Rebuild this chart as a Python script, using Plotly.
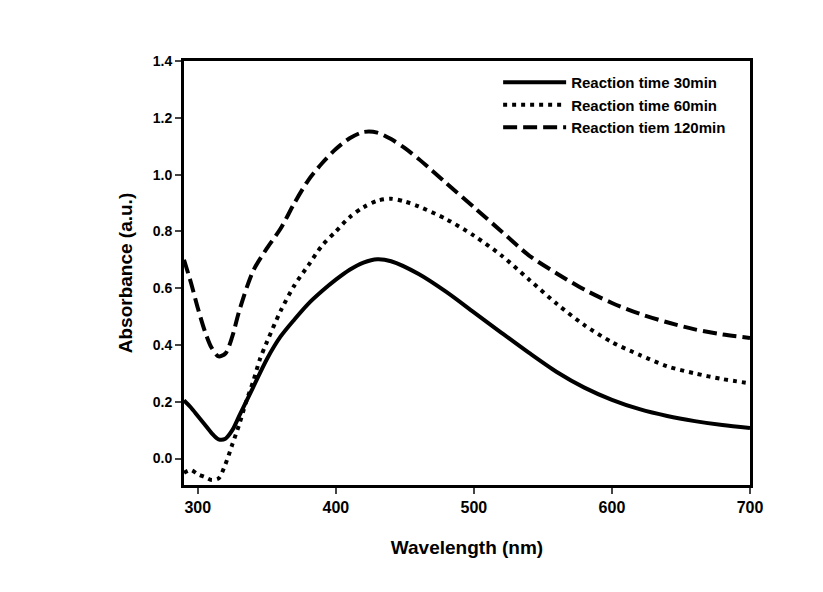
import plotly.graph_objects as go

wl_30 = [290, 295, 300, 305, 310, 315, 320, 325, 330, 340, 350, 360, 370, 380, 390, 400, 410, 420, 430, 440, 460, 480, 500, 520, 540, 560, 580, 600, 620, 640, 660, 680, 700]
abs_30 = [0.205, 0.18, 0.15, 0.12, 0.09, 0.068, 0.07, 0.1, 0.15, 0.25, 0.35, 0.43, 0.49, 0.545, 0.59, 0.63, 0.665, 0.69, 0.702, 0.695, 0.65, 0.587, 0.515, 0.443, 0.372, 0.305, 0.25, 0.207, 0.174, 0.15, 0.132, 0.118, 0.108]

wl_60 = [290, 295, 300, 305, 310, 315, 320, 325, 330, 335, 340, 345, 350, 360, 370, 380, 390, 400, 410, 420, 430, 440, 450, 460, 480, 500, 520, 540, 560, 580, 600, 620, 640, 660, 680, 700]
abs_60 = [-0.05, -0.04, -0.055, -0.065, -0.075, -0.07, -0.02, 0.05, 0.12, 0.2, 0.27, 0.35, 0.41, 0.52, 0.61, 0.68, 0.75, 0.80, 0.85, 0.885, 0.908, 0.915, 0.905, 0.888, 0.843, 0.785, 0.715, 0.63, 0.545, 0.47, 0.41, 0.365, 0.325, 0.30, 0.28, 0.265]

wl_120 = [290, 295, 300, 305, 310, 315, 320, 325, 330, 340, 350, 360, 370, 380, 390, 400, 410, 420, 430, 440, 450, 460, 470, 480, 500, 520, 540, 560, 580, 600, 620, 640, 660, 680, 700]
abs_120 = [0.70, 0.62, 0.53, 0.45, 0.39, 0.36, 0.37, 0.43, 0.52, 0.66, 0.74, 0.81, 0.90, 0.98, 1.04, 1.09, 1.128, 1.15, 1.148, 1.125, 1.093, 1.055, 1.013, 0.97, 0.885, 0.80, 0.715, 0.652, 0.595, 0.548, 0.51, 0.48, 0.455, 0.437, 0.425]

names = ["Reaction time 30min", "Reaction time 60min", "Reaction tiem 120min"]
x_ticks = [300, 400, 500, 600, 700]
y_ticks = [0.0, 0.2, 0.4, 0.6, 0.8, 1.0, 1.2, 1.4]

FONT = "Liberation Sans, Arial, sans-serif"

fig = go.Figure()
fig.add_trace(go.Scatter(x=wl_30, y=abs_30, mode="lines", name=names[0],
                         line=dict(color="black", width=4, shape="spline", smoothing=0.8)))
fig.add_trace(go.Scatter(x=wl_60, y=abs_60, mode="lines", name=names[1],
                         line=dict(color="black", width=4, dash="4px,5px", shape="spline", smoothing=0.8)))
fig.add_trace(go.Scatter(x=wl_120, y=abs_120, mode="lines", name=names[2],
                         line=dict(color="black", width=4, dash="14px,6px", shape="spline", smoothing=0.8)))

fig.update_layout(
    width=823, height=592,
    margin=dict(l=176, r=81, t=53, b=115),
    paper_bgcolor="white", plot_bgcolor="white",
    font=dict(family=FONT, color="black"),
    showlegend=True,
    legend=dict(x=0.555, y=0.988, xanchor="left", yanchor="top",
                bgcolor="rgba(0,0,0,0)", itemwidth=63, tracegroupgap=0,
                font=dict(family=FONT, size=15, color="black", weight="bold")),
    xaxis=dict(range=[290, 700], tickvals=x_ticks, ticks="outside", ticklen=6, tickwidth=2,
               showline=True, linewidth=3, linecolor="black", mirror=True, showgrid=False, zeroline=False,
               tickfont=dict(family=FONT, size=16, weight="bold"),
               title=dict(text="Wavelength (nm)", font=dict(family=FONT, size=19, weight="bold"), standoff=26)),
    yaxis=dict(range=[-0.093, 1.4], tickvals=y_ticks, tickformat=".1f", ticks="outside", ticklen=6, tickwidth=2,
               showline=True, linewidth=3, linecolor="black", mirror=True, showgrid=False, zeroline=False,
               tickfont=dict(family=FONT, size=14, weight="bold"),
               title=dict(text="Absorbance (a.u.)", font=dict(family=FONT, size=19, weight="bold"), standoff=16)),
)

fig.write_html("out.html")
